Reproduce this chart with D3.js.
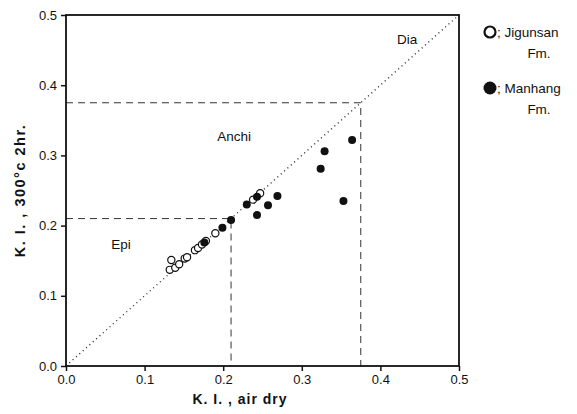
<!DOCTYPE html>
<html>
<head>
<meta charset="utf-8">
<script src="https://cdn.jsdelivr.net/npm/d3@7"></script>
<style>
  body { margin: 0; background: #fff; }
  text { font-family: "Liberation Sans", Arial, sans-serif; fill: #111; }
</style>
</head>
<body>
<div id="chart"></div>
<script>
// Jigunsan Fm. (open circles)
var jigX = [0.132, 0.134, 0.139, 0.144, 0.151, 0.154, 0.164, 0.168, 0.173, 0.178, 0.190, 0.238, 0.247];
var jigY = [0.137, 0.151, 0.140, 0.145, 0.153, 0.155, 0.165, 0.168, 0.173, 0.178, 0.189, 0.237, 0.246];

// Manhang Fm. (filled circles)
var manX = [0.176, 0.199, 0.210, 0.230, 0.243, 0.243, 0.257, 0.269, 0.324, 0.329, 0.353, 0.364];
var manY = [0.176, 0.197, 0.208, 0.230, 0.241, 0.215, 0.229, 0.242, 0.281, 0.306, 0.235, 0.322];

var ticks = [0.0, 0.1, 0.2, 0.3, 0.4, 0.5];
var zoneBounds = [0.21, 0.375];
var zoneNames = ["Epi", "Anchi", "Dia"];
var zoneLabelPos = [[0.070, 0.166], [0.214, 0.320], [0.434, 0.458]];

var width = 577, height = 414;
var margin = {left: 66, right: 118, top: 15, bottom: 48};

var svg = d3.select("#chart").append("svg")
    .attr("width", width)
    .attr("height", height);

var x = d3.scaleLinear().domain([0, 0.5]).range([margin.left, width - margin.right]);
var y = d3.scaleLinear().domain([0, 0.5]).range([height - margin.bottom, margin.top]);

// dashed zone boundaries
zoneBounds.forEach(function(b) {
    svg.append("path")
        .attr("d", "M" + x(0) + "," + y(b) + "H" + x(b) + "V" + y(0))
        .attr("fill", "none")
        .attr("stroke", "#333")
        .attr("stroke-width", 1)
        .attr("stroke-dasharray", "7,5");
});

// 1:1 dotted line
svg.append("line")
    .attr("x1", x(0)).attr("y1", y(0))
    .attr("x2", x(0.5)).attr("y2", y(0.5))
    .attr("stroke", "#222")
    .attr("stroke-width", 1.3)
    .attr("stroke-dasharray", "1,3.5");

// zone labels
svg.selectAll(".zone")
    .data(zoneNames)
    .enter().append("text")
    .attr("class", "zone")
    .attr("x", function(d, i) { return x(zoneLabelPos[i][0]); })
    .attr("y", function(d, i) { return y(zoneLabelPos[i][1]); })
    .attr("text-anchor", "middle")
    .style("font-size", "13.5px")
    .text(function(d) { return d; });

// frame
svg.append("rect")
    .attr("x", x(0)).attr("y", y(0.5))
    .attr("width", x(0.5) - x(0))
    .attr("height", y(0) - y(0.5))
    .attr("fill", "none")
    .attr("stroke", "#111")
    .attr("stroke-width", 1.8);

// axes
var xAxis = svg.append("g")
    .attr("transform", "translate(0," + y(0) + ")")
    .call(d3.axisBottom(x).tickValues(ticks).tickFormat(d3.format(".1f")).tickSize(5).tickPadding(4));
var yAxis = svg.append("g")
    .attr("transform", "translate(" + x(0) + ",0)")
    .call(d3.axisLeft(y).tickValues(ticks).tickFormat(d3.format(".1f")).tickSize(5).tickPadding(4));

[xAxis, yAxis].forEach(function(a) {
    a.select(".domain").remove();
    a.selectAll(".tick line").attr("stroke", "#111").attr("stroke-width", 1.5);
    a.selectAll(".tick text")
        .style("font-size", "13px")
        .style("font-family", "'Liberation Sans', Arial, sans-serif")
        .attr("fill", "#111");
});

// axis titles
svg.append("text")
    .attr("x", 240)
    .attr("y", 404)
    .attr("text-anchor", "middle")
    .style("font-size", "14px")
    .style("font-weight", "bold")
    .style("letter-spacing", "1px")
    .text("K. I. , air dry");

svg.append("text")
    .attr("transform", "translate(25," + y(0.25) + ") rotate(-90)")
    .attr("text-anchor", "middle")
    .style("font-size", "14.5px")
    .style("font-weight", "bold")
    .style("letter-spacing", "1.5px")
    .text("K. I. , 300°c 2hr.");

// points
svg.selectAll(".jig")
    .data(jigX)
    .enter().append("circle")
    .attr("class", "jig")
    .attr("cx", function(d) { return x(d); })
    .attr("cy", function(d, i) { return y(jigY[i]); })
    .attr("r", 3.6)
    .attr("fill", "#fff")
    .attr("stroke", "#111")
    .attr("stroke-width", 1.2);

svg.selectAll(".man")
    .data(manX)
    .enter().append("circle")
    .attr("class", "man")
    .attr("cx", function(d) { return x(d); })
    .attr("cy", function(d, i) { return y(manY[i]); })
    .attr("r", 4)
    .attr("fill", "#111");

// legend
var leg = svg.append("g");
leg.append("circle")
    .attr("cx", 490).attr("cy", 32).attr("r", 5.5)
    .attr("fill", "#fff").attr("stroke", "#111").attr("stroke-width", 2.2);
leg.append("text").attr("x", 497).attr("y", 37).style("font-size", "13.5px").text("; Jigunsan");
leg.append("text").attr("x", 539).attr("y", 58).attr("text-anchor", "middle").style("font-size", "13.5px").text("Fm.");
leg.append("circle")
    .attr("cx", 490).attr("cy", 88).attr("r", 6.5)
    .attr("fill", "#111");
leg.append("text").attr("x", 497).attr("y", 93).style("font-size", "13.5px").text("; Manhang");
leg.append("text").attr("x", 539).attr("y", 114).attr("text-anchor", "middle").style("font-size", "13.5px").text("Fm.");
</script>
</body>
</html>
